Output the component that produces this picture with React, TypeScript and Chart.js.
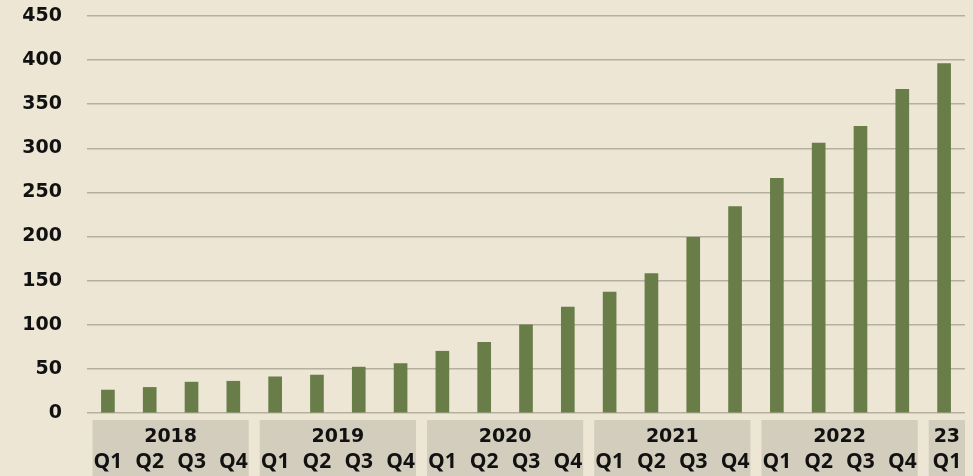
import { useEffect, useRef } from 'react';
import { Chart, registerables } from 'chart.js';

Chart.register(...registerables);

const quarters = ['Q1', 'Q2', 'Q3', 'Q4', 'Q1', 'Q2', 'Q3', 'Q4', 'Q1', 'Q2', 'Q3', 'Q4', 'Q1', 'Q2', 'Q3', 'Q4', 'Q1', 'Q2', 'Q3', 'Q4', 'Q1'];
const years = ['2018', '2019', '2020', '2021', '2022', '23'];
const yearSpans = [4, 4, 4, 4, 4, 1];
const values = [26, 29, 35, 36, 41, 43, 52, 56, 70, 80, 100, 120, 137, 158, 199, 234, 266, 306, 325, 367, 396];
const yTicks = [0, 50, 100, 150, 200, 250, 300, 350, 400, 450];

const BG = '#ede6d5';
const BAR = '#687d48';
const GRID = '#b5af9e';
const BOX = '#d3cdbd';
const TEXT = '#111111';
const FONT_FAMILY = '"DejaVu Sans", sans-serif';
const FONT_SIZE = 19;
const Q_FONT = 'bold 21px "Open Sans", "Noto Sans", sans-serif';

const bgPlugin = {
  id: 'bg',
  beforeDraw(chart: any) {
    const ctx = chart.ctx;
    ctx.save();
    ctx.fillStyle = BG;
    ctx.fillRect(0, 0, chart.width, chart.height);
    ctx.restore();
  },
};

const groupPlugin = {
  id: 'groups',
  afterDraw(chart: any) {
    const ctx = chart.ctx;
    const xs = chart.scales.x;
    const half = (xs.getPixelForValue(1) - xs.getPixelForValue(0)) / 2;
    ctx.save();
    ctx.textAlign = 'center';
    ctx.textBaseline = 'alphabetic';
    let idx = 0;
    years.forEach((yr, g) => {
      const span = yearSpans[g];
      const isLast = g === years.length - 1;
      const left = xs.getPixelForValue(idx) - half + 5.5;
      const right = xs.getPixelForValue(idx + span - 1) + half - (isLast ? 0 : 5.5);
      ctx.fillStyle = BOX;
      ctx.fillRect(left, 420, right - left, chart.height - 420);
      ctx.fillStyle = TEXT;
      ctx.font = `bold ${FONT_SIZE}px ${FONT_FAMILY}`;
      ctx.fillText(yr, (left + right) / 2, 442);
      ctx.font = Q_FONT;
      for (let i = idx; i < idx + span; i++) {
        const cx = isLast ? (left + right) / 2 : xs.getPixelForValue(i);
        ctx.fillText(quarters[i], cx, 467.5);
      }
      idx += span;
    });
    ctx.restore();
  },
};

export default function App() {
  const ref = useRef<HTMLCanvasElement>(null);
  useEffect(() => {
    document.body.style.margin = '0';
    const chart = new Chart(ref.current as HTMLCanvasElement, {
      type: 'bar',
      data: {
        labels: quarters,
        datasets: [{ data: values, backgroundColor: BAR, barThickness: 13 }],
      },
      options: {
        responsive: false,
        animation: false,
        devicePixelRatio: 1,
        layout: { padding: { top: 16, bottom: 63, right: 8, left: 0 } },
        plugins: { legend: { display: false }, tooltip: { enabled: false } },
        scales: {
          x: { display: false },
          y: {
            min: 0,
            max: 450,
            afterBuildTicks: (s: any) => {
              s.ticks = yTicks.map((v) => ({ value: v }));
            },
            afterFit: (s: any) => {
              s.width = 87;
              s.paddingTop = 0;
              s.paddingBottom = 0;
            },
            ticks: {
              padding: 25,
              color: TEXT,
              font: { family: FONT_FAMILY, size: FONT_SIZE, weight: 'bold' },
            },
            grid: { color: GRID, lineWidth: 1.6, drawTicks: false },
            border: { display: false },
          },
        },
      },
      plugins: [bgPlugin, groupPlugin],
    } as any);
    return () => chart.destroy();
  }, []);
  return <canvas ref={ref} width={973} height={476} style={{ display: 'block' }} />;
}
